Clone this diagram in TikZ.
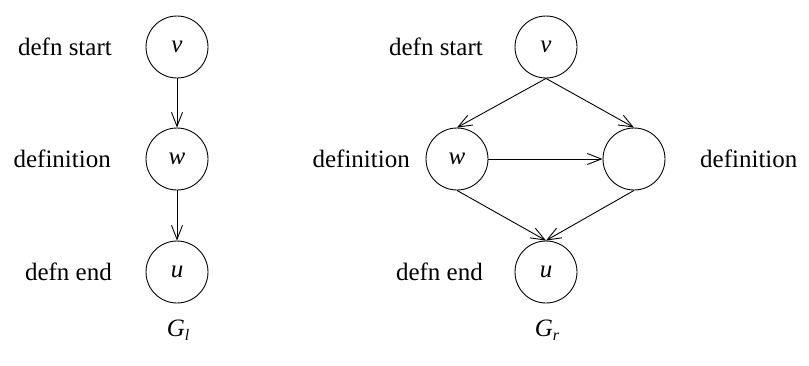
\documentclass[tikz,border=0pt]{standalone}
\usepackage{fontspec}
\setmainfont{Liberation Serif}
\usetikzlibrary{arrows.meta}
\newcommand{\gname}[1]{\textit{G}\raisebox{-0.3ex}{\fontsize{16}{18}\selectfont\textit{#1}}}
\begin{document}
\begin{tikzpicture}[x=1pt,y=-1pt,
  every node/.style={font=\fontsize{25}{30}\selectfont},
  vert/.style={circle,draw,line width=0.9pt,minimum size=62pt,inner sep=0pt},
  lbl/.style={inner sep=0pt},
  edge/.style={line width=0.9pt,-{Straight Barb[length=14pt,width=11pt,line width=0.9pt]}}]
\useasboundingbox (0,0) rectangle (809,365);

% left graph G_l
\node[vert] (lv) at (177,47) {\itshape v};
\node[vert] (lw) at (177,159) {\itshape w};
\node[vert] (lu) at (177,272) {\itshape u};
\node[lbl,anchor=east] (llv) at (112,47) {defn start};
\node[lbl,anchor=east] (llw) at (111,159) {definition};
\node[lbl,anchor=east] (llu) at (112,272) {defn end};
\node (gl) at (178,330) {\gname{l}};
\draw[edge] (lv.south) -- (lw.north);
\draw[edge] (lw.south) -- (lu.north);

% right graph G_r
\node[vert] (rv) at (546,47) {\itshape v};
\node[vert] (rw) at (457,159) {\itshape w};
\node[vert] (rx) at (634,159) {};
\node[vert] (ru) at (546,272) {\itshape u};
\node[lbl,anchor=east] (rlv) at (483,47) {defn start};
\node[lbl,anchor=east] (rlw) at (410,159) {definition};
\node[lbl,anchor=west] (rlx) at (700,159) {definition};
\node[lbl,anchor=east] (rlu) at (483,272) {defn end};
\node (gr) at (547,330) {\gname{r}};
\draw[edge] (rv.south) -- (rw.north);
\draw[edge] (rv.south) -- (rx.north);
\draw[edge] (rw.east) -- (rx.west);
\draw[edge] (rw.south) -- (ru.north);
\draw[edge] (rx.south) -- (ru.north);
\end{tikzpicture}
\end{document}
